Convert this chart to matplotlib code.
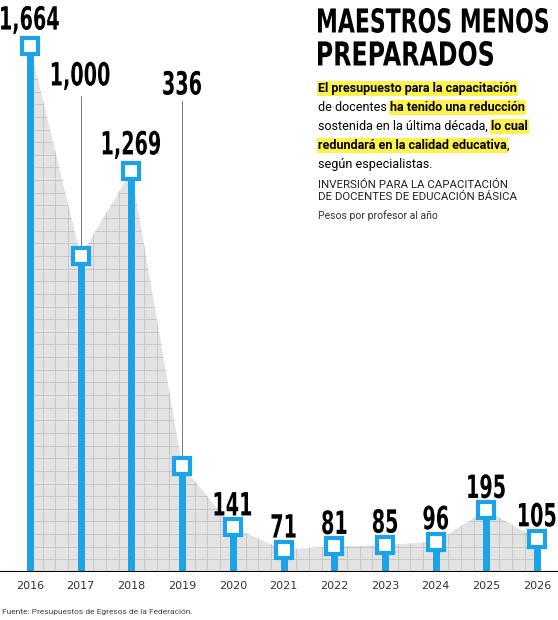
import matplotlib
matplotlib.use("Agg")
import matplotlib.pyplot as plt
import numpy as np
from matplotlib.patches import Polygon, PathPatch
from matplotlib.textpath import TextPath
from matplotlib.font_manager import FontProperties
from matplotlib.transforms import Affine2D

years = ["2016","2017","2018","2019","2020","2021","2022","2023","2024","2025","2026"]
values = [1664, 1000, 1269, 336, 141, 71, 81, 85, 96, 195, 105]
labels = ["1,664","1,000","1,269","336","141","71","81","85","96","195","105"]

BLUE = "#1aa3e8"
W, H = 558, 620
BOLD = FontProperties(family="DejaVu Sans", weight="bold")

fig = plt.figure(figsize=(W/100, H/100), dpi=100)
AX_BOTTOM = H - 572
ax = fig.add_axes([0, AX_BOTTOM/H, 1, 572/H])
x = np.arange(len(values))
XMIN, XMAX, YMAX = -0.59, 10.41, 1810
ax.set_xlim(XMIN, XMAX)
ax.set_ylim(0, YMAX)
ax.axis("off")

def to_px(xd, yd):
    return (xd - XMIN) / (XMAX - XMIN) * W, AX_BOTTOM + yd / YMAX * 572

def ptext(s, px, py, size, sx=0.6, ha="center", va="bottom", width=None, color="black"):
    """Draw condensed text as a path; px, py in pixels from bottom-left."""
    tp = TextPath((0, 0), s, size=size, prop=BOLD)
    ext = tp.get_extents()
    if width is not None:
        sx = width / ext.width
    w = ext.width * sx
    dx = {"left": 0, "center": -w/2, "right": -w}[ha] - ext.x0 * sx
    dy = {"bottom": -ext.y0, "top": -ext.y1}[va]
    tr = Affine2D().scale(sx, 1).translate(px + dx, py + dy)
    fig.patches.append(PathPatch(tp, transform=tr, fc=color, ec="none", zorder=10))

# area
verts = [(x[0], 0)] + list(zip(x, values)) + [(x[-1], 0)]
poly = Polygon(verts, closed=True, facecolor="#e3e3e3", edgecolor="none", zorder=1)
ax.add_patch(poly)
for gx in np.arange(-0.5, 10.6, 0.25):
    l, = ax.plot([gx, gx], [0, YMAX], color="#bdbdbd", lw=0.5, zorder=2)
    l.set_clip_path(poly)
for gy in np.arange(0, YMAX, 40):
    l, = ax.plot([-1, 11], [gy, gy], color="#bdbdbd", lw=0.5, zorder=2)
    l.set_clip_path(poly)

for xi, v in zip(x, values):
    ax.plot([xi, xi], [0, v], color=BLUE, lw=5, solid_capstyle="butt", zorder=3)
ax.plot(x, values, ls="none", marker="s", ms=11, mfc="white", mec=BLUE, mew=3, zorder=4)
ax.axhline(0, color="black", lw=1.5, zorder=5)

# value labels
for i, (v, lab) in enumerate(zip(values, labels)):
    if i == 1:
        px, _ = to_px(x[i], v)
        ptext(lab, px, H - 90, 32)
        ax.plot([x[i], x[i]], [1505, v + 30], color="#777777", lw=0.7, zorder=2)
    elif i == 3:
        px, _ = to_px(x[i], v)
        ptext(lab, px, H - 95, 32)
        ax.plot([x[i], x[i]], [1490, v + 30], color="#777777", lw=0.7, zorder=2)
    else:
        px, py = to_px(x[i], v)
        ptext(lab, px, py + 12, 32)

for xi, yr in zip(x, years):
    ax.text(xi, -30, yr, ha="center", va="top", fontsize=8, color="#333333", clip_on=False)

# title block
ptext("MAESTROS MENOS", 318, H - 8, 33, ha="left", va="top", width=230)
ptext("PREPARADOS", 318, H - 41, 33, ha="left", va="top", width=175)

HL = "#fff34a"
FAM = ["Roboto", "DejaVu Sans"]
lines = [
    [("El presupuesto para la capacitación", True, True)],
    [("de docentes ", False, False), ("ha tenido una reducción", True, True)],
    [("sostenida en la última década, ", False, False), ("lo cual", True, True)],
    [("redundará en la calidad educativa", True, True), (",", False, False)],
    [("según especialistas.", False, False)],
]
fig.canvas.draw()
r = fig.canvas.get_renderer()
for li, segs in enumerate(lines):
    xp = 318
    yp = 82 + li * 19
    for txt, bold, hl in segs:
        kw = dict(ha="left", va="top", family=FAM, fontsize=9, weight="bold" if bold else "normal")
        if hl:
            kw["bbox"] = dict(boxstyle="square,pad=0.1", fc=HL, ec="none")
        t = fig.text(xp/W, 1 - yp/H, txt, **kw)
        xp += t.get_window_extent(r).width

fig.text(318/W, 1 - 180/H, "INVERSIÓN PARA LA CAPACITACIÓN\nDE DOCENTES DE EDUCACIÓN BÁSICA",
         ha="left", va="top", family=FAM, fontsize=8.2, linespacing=1.2, color="#222222")
fig.text(318/W, 1 - 210/H, "Pesos por profesor al año", ha="left", va="top", family=FAM,
         fontsize=7.5, color="#333333")

fig.text(2/W, 1 - 612/H, "Fuente: Presupuestos de Egresos de la Federación.", ha="left", va="center",
         family=FAM, fontsize=6, color="#444444")

fig.savefig("out.png", dpi=100)
